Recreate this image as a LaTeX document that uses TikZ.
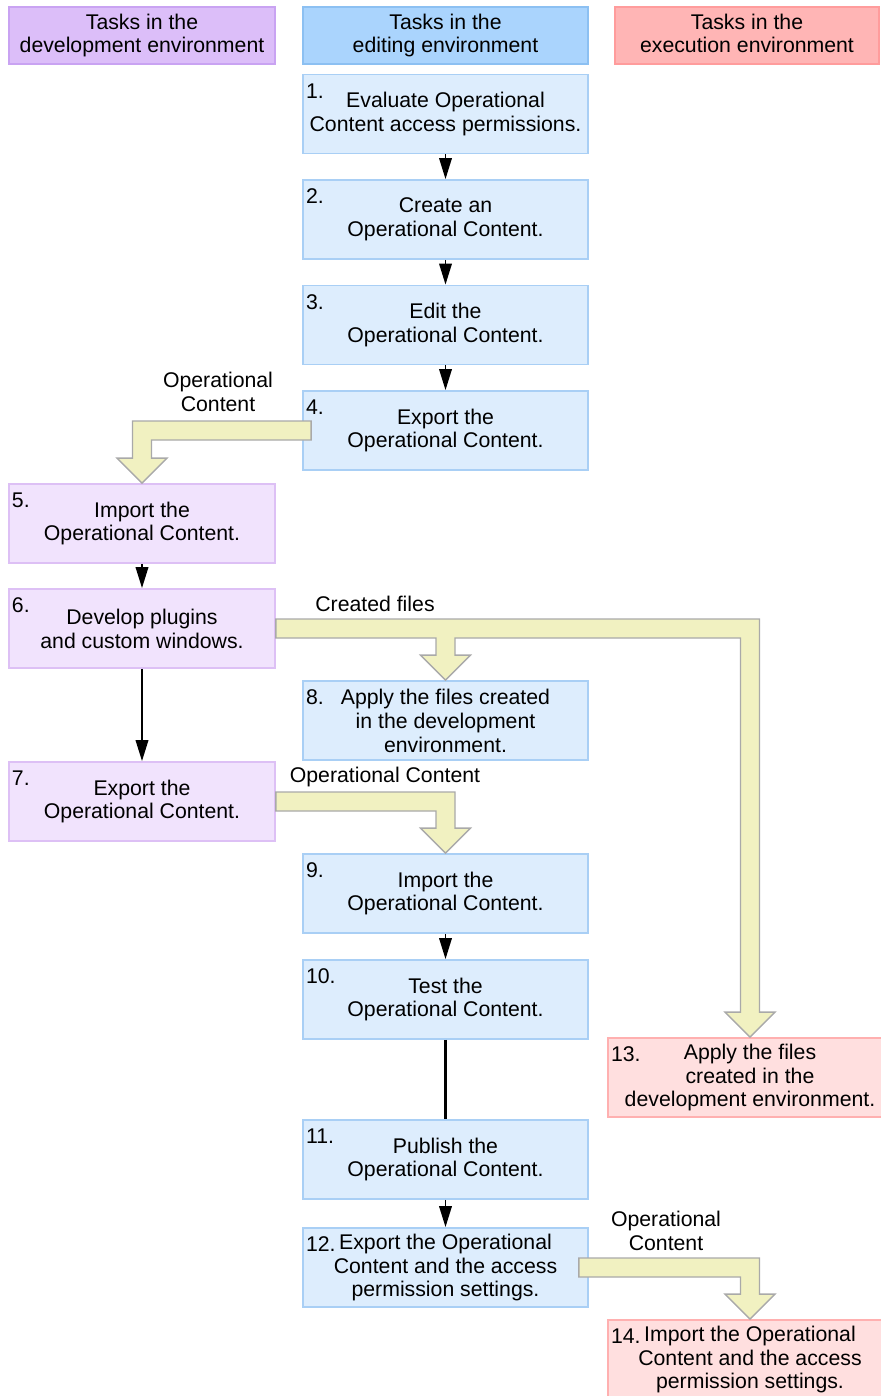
\documentclass[tikz,border=0pt]{standalone}
\usepackage{fontspec}
\setmainfont{Liberation Sans}
\usetikzlibrary{arrows.meta,calc}
\definecolor{devhead}{HTML}{DCBEF9}
\definecolor{devheadline}{HTML}{C9A3F2}
\definecolor{edithead}{HTML}{AAD4FD}
\definecolor{editheadline}{HTML}{8CC0F2}
\definecolor{exechead}{HTML}{FFB5B5}
\definecolor{execheadline}{HTML}{FF9C9C}
\definecolor{devtask}{HTML}{F1E3FD}
\definecolor{devtaskline}{HTML}{DDC0F5}
\definecolor{edittask}{HTML}{DDEDFD}
\definecolor{edittaskline}{HTML}{A9CFF5}
\definecolor{exectask}{HTML}{FFDFDF}
\definecolor{exectaskline}{HTML}{FFB0B0}
\definecolor{bandfill}{HTML}{F1F1C1}
\definecolor{bandline}{HTML}{A9A9A9}
\begin{document}
\begin{tikzpicture}[x=0.02cm,y=-0.02cm,
    font=\fontsize{12.1}{13.6}\selectfont,
    box/.style={rectangle, draw, line width=1pt, inner sep=0pt, align=center},
    headbox/.style={box, minimum height=1.14cm},
    taskbox/.style={box, minimum height=1.58cm},
    devhd/.style={headbox, fill=devhead, draw=devheadline, minimum width=5.32cm},
    edithd/.style={headbox, fill=edithead, draw=editheadline, minimum width=5.7cm},
    exechd/.style={headbox, fill=exechead, draw=execheadline, minimum width=5.28cm},
    devtk/.style={taskbox, fill=devtask, draw=devtaskline, minimum width=5.32cm},
    edittk/.style={taskbox, fill=edittask, draw=edittaskline, minimum width=5.7cm},
    exectk/.style={taskbox, fill=exectask, draw=exectaskline, minimum width=5.68cm},
    numlbl/.style={anchor=north west, inner sep=0pt},
    flow/.style={line width=1.1pt, -{Triangle[width=0.25cm,length=0.42cm]}},
    blockarrow/.style={fill=bandfill, draw=bandline, line width=0.8pt, line join=miter},
    arrlbl/.style={align=center, inner sep=0pt}
  ]
  \useasboundingbox (0,0) rectangle (881,1396);
  \clip (0,0) rectangle (881,1396);

  % column heads
  \node[devhd] (hdev) at (142,35.5) {Tasks in the\\development environment};
  \node[edithd] (hedit) at (445.5,35.5) {Tasks in the\\editing environment};
  \node[exechd] (hexec) at (747,35.5) {Tasks in the\\execution environment\vphantom{p}};

  % tasks
  \node[edittk] (t1) at (445.5,114) {Evaluate Operational\\Content access permissions.};
  \node[edittk] (t2) at (445.5,219.5) {Create an\\Operational Content.};
  \node[edittk] (t3) at (445.5,325) {Edit the\\Operational Content.};
  \node[edittk] (t4) at (445.5,430.5) {Export the\\Operational Content.};
  \node[devtk] (t5) at (142,523.5) {Import the\\Operational Content.};
  \node[devtk] (t6) at (142,628.5) {Develop plugins\\and custom windows.};
  \node[devtk] (t7) at (142,801.5) {Export the\\Operational Content.};
  \node[edittk] (t8) at (445.5,720.5) {Apply the files created\\in the development\\environment.};
  \node[edittk] (t9) at (445.5,893.5) {Import the\\Operational Content.};
  \node[edittk] (t10) at (445.5,999.5) {Test the\\Operational Content.};
  \node[edittk] (t11) at (445.5,1159.5) {Publish the\\Operational Content.};
  \node[edittk] (t12) at (445.5,1267.5) {Export the Operational\\Content and the access\\permission settings.};
  \node[exectk] (t13) at (750,1077.5) {Apply the files\\created in the\\development environment.};
  \node[exectk] (t14) at (750,1359.5) {Import the Operational\\Content and the access\\permission settings.};

  % step numbers
  \foreach \i in {1,...,14}
    \node[numlbl] (n\i) at ([xshift=0.07cm,yshift=-0.19cm]t\i.north west) {\i.};

  % plain flow
  \draw[flow] (t1.south) -- (t2.north);
  \draw[flow] (t2.south) -- (t3.north);
  \draw[flow] (t3.south) -- (t4.north);
  \draw[flow] (t5.south) -- (t6.north);
  \draw[flow] (t6.south) -- (t7.north);
  \draw[flow] (t9.south) -- (t10.north);
  \draw[line width=1.3pt] (t10.south) -- (t11.north);
  \draw[flow] (t11.south) -- (t12.north);

  % hand-over arrows
  \coordinate (s4) at ([xshift=0.18cm]t4.west);
  \draw[blockarrow] ($(s4)+(0,-9.5)$) -- ($(t5.north|-s4)+(-9.5,-9.5)$)
    -- ($(t5.north)+(-9.5,-25)$) -- ($(t5.north)+(-25,-25)$) -- (t5.north)
    -- ($(t5.north)+(25,-25)$) -- ($(t5.north)+(9.5,-25)$)
    -- ($(t5.north|-s4)+(9.5,9.5)$) -- ($(s4)+(0,9.5)$) -- cycle;

  \coordinate (s6) at (t6.east);
  \draw[blockarrow] ($(s6)+(0,-9.5)$) -- ($(t13.north|-s6)+(9.5,-9.5)$)
    -- ($(t13.north)+(9.5,-25)$) -- ($(t13.north)+(25,-25)$) -- (t13.north)
    -- ($(t13.north)+(-25,-25)$) -- ($(t13.north)+(-9.5,-25)$)
    -- ($(t13.north|-s6)+(-9.5,9.5)$) -- ($(t8.north|-s6)+(9.5,9.5)$)
    -- ($(t8.north)+(9.5,-25)$) -- ($(t8.north)+(25,-25)$) -- (t8.north)
    -- ($(t8.north)+(-25,-25)$) -- ($(t8.north)+(-9.5,-25)$)
    -- ($(t8.north|-s6)+(-9.5,9.5)$) -- ($(s6)+(0,9.5)$) -- cycle;

  \coordinate (s7) at (t7.east);
  \draw[blockarrow] ($(s7)+(0,-9.5)$) -- ($(t9.north|-s7)+(9.5,-9.5)$)
    -- ($(t9.north)+(9.5,-25)$) -- ($(t9.north)+(25,-25)$) -- (t9.north)
    -- ($(t9.north)+(-25,-25)$) -- ($(t9.north)+(-9.5,-25)$)
    -- ($(t9.north|-s7)+(-9.5,9.5)$) -- ($(s7)+(0,9.5)$) -- cycle;

  \coordinate (s12) at ([xshift=-0.2cm]t12.east);
  \draw[blockarrow] ($(s12)+(0,-9.5)$) -- ($(t14.north|-s12)+(9.5,-9.5)$)
    -- ($(t14.north)+(9.5,-25)$) -- ($(t14.north)+(25,-25)$) -- (t14.north)
    -- ($(t14.north)+(-25,-25)$) -- ($(t14.north)+(-9.5,-25)$)
    -- ($(t14.north|-s12)+(-9.5,9.5)$) -- ($(s12)+(0,9.5)$) -- cycle;

  % arrow labels
  \node[arrlbl] (l4) at (218,392) {Operational\\Content};
  \node[arrlbl] (l6) at (375,604) {Created files};
  \node[arrlbl] (l7) at (385,777) {Operational Content};
  \node[arrlbl] (l12) at (666,1231) {Operational\\Content};
\end{tikzpicture}
\end{document}
